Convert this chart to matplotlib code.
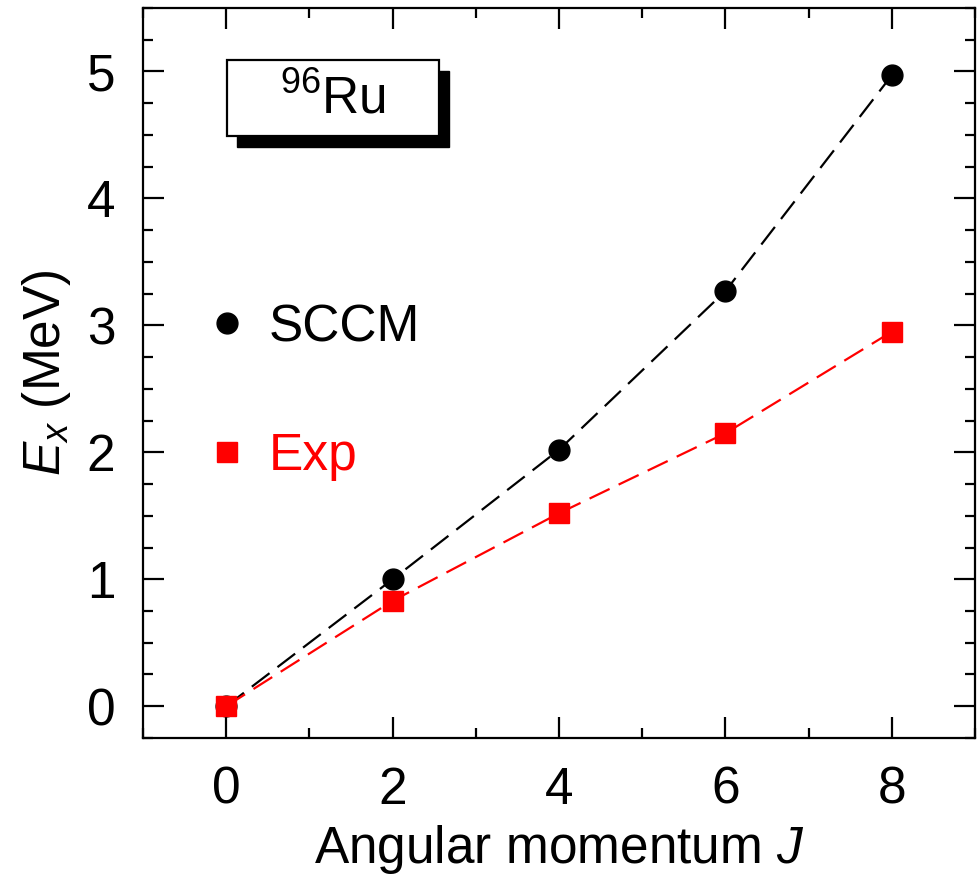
import matplotlib
matplotlib.use('Agg')
import matplotlib.pyplot as plt
from matplotlib.lines import Line2D
from matplotlib.patches import Rectangle
from matplotlib.ticker import MultipleLocator

plt.rcParams['font.family'] = ['Liberation Sans', 'DejaVu Sans']
plt.rcParams['mathtext.fontset'] = 'custom'
plt.rcParams['mathtext.rm'] = 'Liberation Sans'
plt.rcParams['mathtext.it'] = 'Liberation Sans:italic'

# data
spin = [0, 2, 4, 6, 8]
sccm = [0.0, 1.0, 2.02, 3.27, 4.97]
exp = [0.0, 0.83, 1.52, 2.15, 2.95]

FS = 37
dash = (0, (10, 4.5))

fig = plt.figure(figsize=(9.77, 8.82), dpi=100)
ax = fig.add_axes([0.1464, 0.1633, 0.8516, 0.8277])

ax.plot(spin, sccm, color='black', ls=dash, lw=1.6,
        marker='o', ms=15, zorder=3)
ax.plot(spin, exp, color='red', ls=dash, lw=1.6,
        marker='s', ms=15, zorder=3)

ax.set_xlim(-1, 9)
ax.set_ylim(-0.25, 5.5)
ax.xaxis.set_major_locator(MultipleLocator(2))
ax.xaxis.set_minor_locator(MultipleLocator(1))
ax.yaxis.set_major_locator(MultipleLocator(1))
ax.yaxis.set_minor_locator(MultipleLocator(0.25))
ax.tick_params(which='both', direction='in', top=True, right=True,
               labelsize=FS, width=1.6, pad=20)
ax.tick_params(which='major', length=15)
ax.tick_params(which='minor', length=7.5)
for s in ax.spines.values():
    s.set_linewidth(1.6)

ax.set_xlabel('Angular momentum $J$', fontsize=FS, labelpad=6)
ax.set_ylabel('$E_x$ (MeV)', fontsize=FS, labelpad=10)

# nucleus label box with shadow
ax.add_patch(Rectangle((0.113, 0.810), 0.255, 0.104, transform=ax.transAxes,
                       facecolor='black', edgecolor='black', zorder=4))
ax.add_patch(Rectangle((0.101, 0.825), 0.255, 0.104, transform=ax.transAxes,
                       facecolor='white', edgecolor='black', lw=1.6, zorder=5))
ax.text(0.2285, 0.874, '$^{96}$Ru', transform=ax.transAxes, fontsize=FS,
        ha='center', va='center', zorder=6)

handles = [Line2D([], [], color='black', marker='o', ms=15, ls='none'),
           Line2D([], [], color='red', marker='s', ms=15, ls='none')]
leg = ax.legend(handles, ['SCCM', 'Exp'], loc='center left',
                bbox_to_anchor=(0.070, 0.474), frameon=False, fontsize=FS,
                handlelength=1.0, handletextpad=0.32, labelspacing=1.55,
                borderpad=0, borderaxespad=0)
leg.get_texts()[1].set_color('red')

fig.savefig('out.png', dpi=100)
